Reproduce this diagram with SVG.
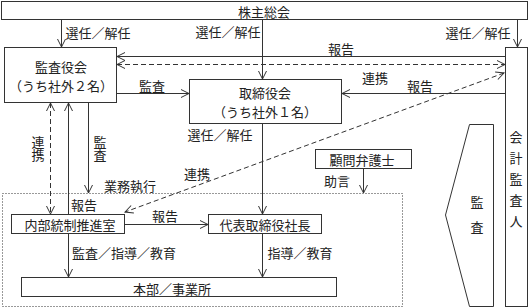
<svg xmlns="http://www.w3.org/2000/svg" width="530" height="308" viewBox="0 0 530 308">
<style>
text{font-family:"Noto Sans CJK JP","Noto Sans",sans-serif;font-size:13px;fill:#222;text-anchor:middle;dominant-baseline:central}
.v{writing-mode:vertical-rl}
.box{fill:#fff;stroke:#333;stroke-width:1}
.ln{fill:none;stroke:#333;stroke-width:1}
.ds{fill:none;stroke:#333;stroke-width:1;stroke-dasharray:5 3}
.dot{fill:none;stroke:#333;stroke-width:1;stroke-dasharray:1 2}
</style>
<defs>
<marker id="ah" viewBox="0 0 10 10" refX="9" refY="5" markerWidth="10" markerHeight="10" markerUnits="userSpaceOnUse" orient="auto-start-reverse">
<path d="M1,1 L9,5 L1,9" fill="none" stroke="#333" stroke-width="1"/>
</marker>
</defs>
<rect id="scope" class="dot" x="2.5" y="193.5" width="400" height="113"/>
<g id="kabunushi"><rect class="box" x="1.5" y="1.5" width="526" height="18"/><text x="264" y="11">株主総会</text></g>
<g id="kansayaku"><rect class="box" x="4.5" y="47.5" width="112" height="55"/><text x="61" y="66">監査役会</text><text x="61" y="85">（うち社外２名）</text></g>
<g id="torishimariyaku"><rect class="box" x="189.5" y="79.5" width="152" height="44"/><text x="265" y="92">取締役会</text><text x="265" y="111">（うち社外１名）</text></g>
<g id="kaikei"><rect class="box" x="505.5" y="47.5" width="22" height="259"/><text class="v" x="516" y="183" style="letter-spacing:8px">会計監査人</text></g>
<g id="kansa-arrow"><polygon class="box" points="469.5,124.5 493.5,124.5 493.5,306.5 469.5,306.5 445.5,215"/><text class="v" x="477" y="221" style="letter-spacing:12px">監査</text></g>
<g id="komon"><rect class="box" x="315.5" y="149.5" width="96" height="19"/><text x="362" y="159">顧問弁護士</text></g>
<g id="naibu"><rect class="box" x="11.5" y="214.5" width="113" height="19"/><text x="70" y="224">内部統制推進室</text></g>
<g id="daihyo"><rect class="box" x="208.5" y="214.5" width="113" height="19"/><text x="265" y="224">代表取締役社長</text></g>
<g id="honbu"><rect class="box" x="21.5" y="277.5" width="315" height="19"/><text x="172" y="288">本部／事業所</text></g>
<g id="connectors">
<line class="ln" x1="61.5" y1="20" x2="61.5" y2="47" marker-end="url(#ah)"/>
<line class="ln" x1="262.5" y1="20" x2="262.5" y2="79" marker-end="url(#ah)"/>
<line class="ln" x1="517.5" y1="20" x2="517.5" y2="47" marker-end="url(#ah)"/>
<line class="ln" x1="505" y1="56.5" x2="117" y2="56.5" marker-end="url(#ah)"/>
<line class="ds" x1="117" y1="64.5" x2="505" y2="64.5" marker-start="url(#ah)" marker-end="url(#ah)"/>
<line class="ln" x1="505" y1="93.5" x2="342" y2="93.5" marker-end="url(#ah)"/>
<line class="ln" x1="117" y1="93.5" x2="189" y2="93.5" marker-end="url(#ah)"/>
<line class="ds" x1="50.5" y1="103" x2="50.5" y2="214" marker-start="url(#ah)" marker-end="url(#ah)"/>
<line class="ln" x1="68.5" y1="214" x2="68.5" y2="103" marker-end="url(#ah)"/>
<line class="ln" x1="88.5" y1="103" x2="88.5" y2="193" marker-end="url(#ah)"/>
<line class="ds" x1="504" y1="73" x2="125" y2="212" marker-start="url(#ah)" marker-end="url(#ah)"/>
<line class="ln" x1="262.5" y1="124" x2="262.5" y2="214" marker-end="url(#ah)"/>
<line class="ln" x1="363.5" y1="169" x2="363.5" y2="193" marker-end="url(#ah)"/>
<line class="ln" x1="125" y1="224.5" x2="208" y2="224.5" marker-end="url(#ah)"/>
<line class="ln" x1="68.5" y1="234" x2="68.5" y2="277" marker-end="url(#ah)"/>
<line class="ln" x1="262.5" y1="234" x2="262.5" y2="277" marker-end="url(#ah)"/>
</g>
<g id="labels">
<text x="98" y="32">選任／解任</text>
<text x="228" y="31">選任／解任</text>
<text x="478" y="32">選任／解任</text>
<text x="341" y="48">報告</text>
<text x="375" y="77">連携</text>
<text x="420" y="85">報告</text>
<text x="152" y="85">監査</text>
<text class="v" x="38" y="149">連携</text>
<text class="v" x="100" y="149">監査</text>
<text x="130" y="185">業務執行</text>
<text x="197" y="173">連携</text>
<text x="220" y="134">選任／解任</text>
<text x="337" y="180">助言</text>
<text x="84" y="204">報告</text>
<text x="165" y="215">報告</text>
<text x="124" y="252">監査／指導／教育</text>
<text x="300" y="252">指導／教育</text>
</g>
</svg>
